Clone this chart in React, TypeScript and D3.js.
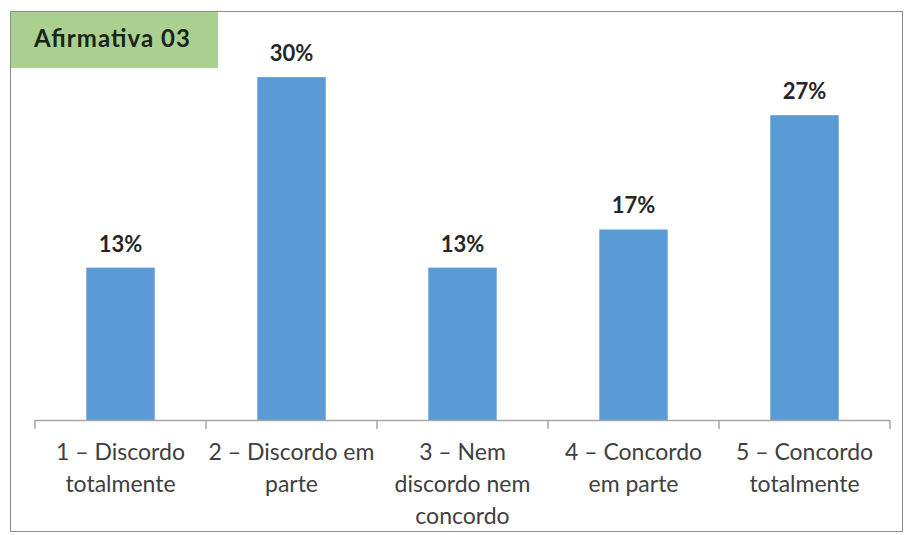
import React from "react";
import * as d3 from "d3";

const categories = [
  ["1 – Discordo", "totalmente"],
  ["2 – Discordo em", "parte"],
  ["3 – Nem", "discordo nem", "concordo"],
  ["4 – Concordo", "em parte"],
  ["5 – Concordo", "totalmente"],
];
const values = [13.33, 30, 13.33, 16.67, 26.67];
const labels = ["13%", "30%", "13%", "17%", "27%"];
const title = "Afirmativa 03";

export default function App() {
  const W = 906, H = 535;
  const x = d3.scaleBand<number>().domain(d3.range(values.length)).range([35, 890]).paddingInner(0.6).paddingOuter(0.3);
  const xb = d3.scaleBand<number>().domain(d3.range(values.length)).range([35, 890]);
  const y = d3.scaleLinear().domain([0, 35]).range([420, 20]);
  const font = "Lato, 'Open Sans', sans-serif";
  return (
    <svg width={W} height={H} style={{ position: "absolute", left: 0, top: 0 }}>
      <rect x={0} y={0} width={W} height={H} fill="#fff" />
      <rect x={10.5} y={11.5} width={892} height={520} fill="#fff" stroke="#8c8c8c" strokeWidth={1} />
      <rect x={11} y={12} width={207} height={56} fill="#a9d08e" />
      <text x={34} y={47} fontFamily={font} fontWeight="bold" fontSize={24} fill="#1a241a" textLength={156}>{title}</text>
      {values.map((v, i) => (
        <g key={i}>
          <rect x={x(i)} y={y(v)} width={x.bandwidth()} height={y(0) - y(v)} fill="#5b9bd5" />
          <text x={(x(i) as number) + x.bandwidth() / 2} y={y(v) - 16} textAnchor="middle" fontFamily={font} fontWeight="bold" fontSize={22} fill="#262626">{labels[i]}</text>
          {categories[i].map((line, j) => (
            <text key={j} x={(xb(i) as number) + xb.bandwidth() / 2} y={460 + j * 32} textAnchor="middle" fontFamily={font} fontSize={23} fill="#404040">{line}</text>
          ))}
        </g>
      ))}
      <line x1={35} x2={890} y1={420.5} y2={420.5} stroke="#a6a6a6" strokeWidth={1.5} />
      {d3.range(values.length + 1).map((i) => {
        const tx = 35 + i * xb.step();
        return <line key={i} x1={tx} x2={tx} y1={420} y2={429} stroke="#a6a6a6" strokeWidth={1.5} />;
      })}
    </svg>
  );
}
